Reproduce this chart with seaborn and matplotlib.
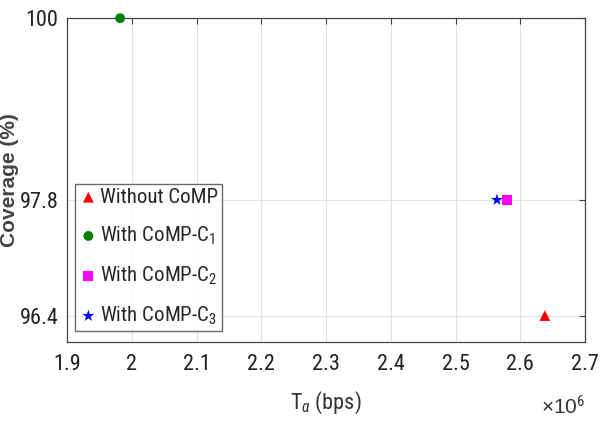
import matplotlib
matplotlib.use("Agg")
import matplotlib.pyplot as plt
import seaborn as sns
import pandas as pd

# data
schemes = ["Without CoMP", "With CoMP-$\\mathregular{C_1}$", "With CoMP-$\\mathregular{C_2}$", "With CoMP-$\\mathregular{C_3}$"]
throughput = [2.638e6, 1.982e6, 2.580e6, 2.564e6]
coverage = [96.4, 100.0, 97.8, 97.8]
x_ticks = [1.9, 2.0, 2.1, 2.2, 2.3, 2.4, 2.5, 2.6, 2.7]
y_ticks = [96.4, 97.8, 100]

colors = ["#ff0000", "#008000", "#ff00ff", "#0000ff"]
markers = ["^", "o", "s", "*"]
sizes = [60, 50, 50, 80]

NARROW = "Roboto Condensed"

sns.set_style("white")
plt.rcParams["font.family"] = [NARROW, "DejaVu Sans"]
plt.rcParams["mathtext.fontset"] = "custom"
plt.rcParams["mathtext.rm"] = NARROW
plt.rcParams["mathtext.it"] = NARROW + ":italic"

df = pd.DataFrame({"scheme": schemes, "x": [t / 1e6 for t in throughput], "y": coverage})

fig = plt.figure(figsize=(6, 4.23), dpi=100)
ax = fig.add_axes([0.1117, 0.1915, 0.8633, 0.7655])

for i, row in df.iterrows():
    sns.scatterplot(x=[row["x"]], y=[row["y"]], ax=ax, color=colors[i], marker=markers[i],
                    s=sizes[i], edgecolor="none", label=row["scheme"], zorder=3, clip_on=False)

ax.set_xlim(1.9, 2.7)
ax.set_ylim(96.08, 100)
ax.set_xticks(x_ticks)
ax.set_xticklabels(["1.9", "2", "2.1", "2.2", "2.3", "2.4", "2.5", "2.6", "2.7"])
ax.set_yticks(y_ticks)
ax.set_yticklabels(["96.4", "97.8", "100"])
ax.tick_params(direction="in", top=True, right=True, length=4, width=0.8,
               colors="#444444", labelcolor="#222222", labelsize=16)
ax.tick_params(axis="x", pad=9)
ax.tick_params(axis="y", pad=6)
ax.grid(True, color="#e3e3e3", linewidth=0.8)
for s in ax.spines.values():
    s.set_color("#444444")
    s.set_linewidth(0.9)

ax.set_xlabel("T$_{\\alpha}$ (bps)", fontsize=16, color="#333333", labelpad=10)
ax.set_ylabel("Coverage (%)", fontsize=15, color="#444444", fontweight="bold",
              family=["Liberation Sans", "DejaVu Sans"])
ax.yaxis.set_label_coords(-0.093, 0.5)
ax.text(1.0, -0.165, "×10$^6$", transform=ax.transAxes, ha="right", va="top",
        fontsize=15, color="#333333", family=["Liberation Sans", "DejaVu Sans"])

leg = ax.legend(loc="lower left", bbox_to_anchor=(0.003, 0.015), fontsize=15,
                frameon=True, fancybox=False, edgecolor="#444444", handletextpad=0.1,
                labelspacing=0.85, borderpad=0.2, handlelength=0.9, borderaxespad=0.3)
leg.get_frame().set_linewidth(1.0)

fig.savefig("out.png", dpi=100)
